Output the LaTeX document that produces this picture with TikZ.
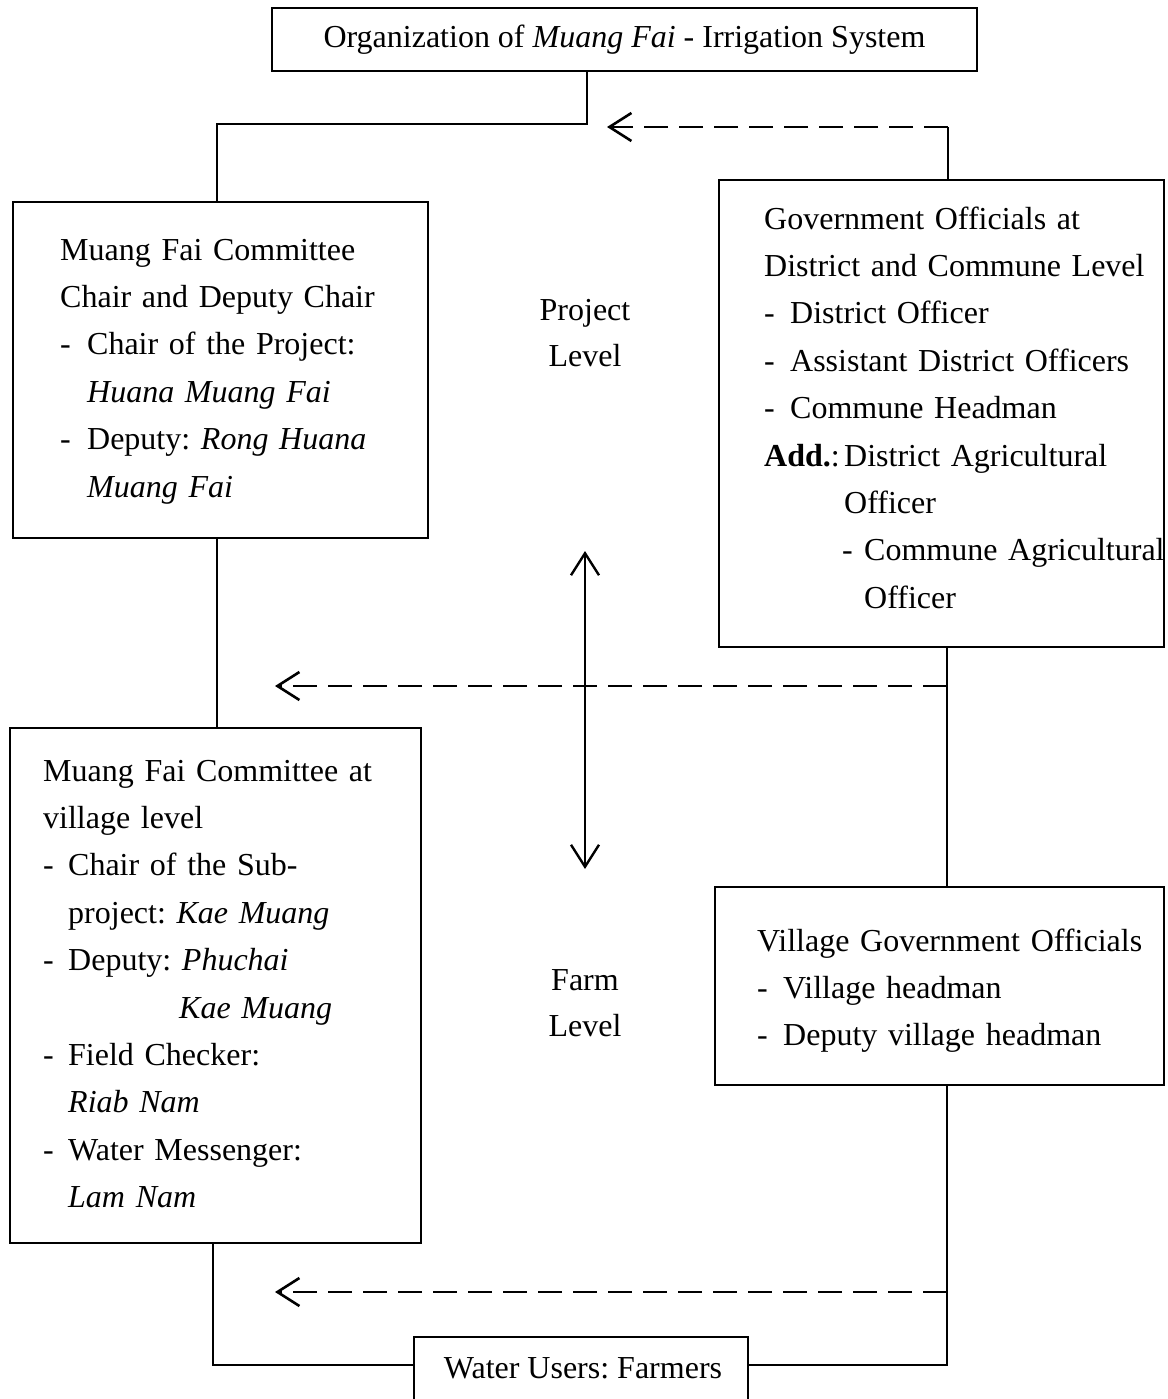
\documentclass[tikz,border=0pt]{standalone}
\usepackage{fontspec}
\setmainfont{Liberation Serif}
\usetikzlibrary{arrows.meta}
\newcommand\dsh[1]{\makebox[#1][l]{-}}
\frenchspacing
\begin{document}
\begin{tikzpicture}[x=1pt,y=-1pt,
  box/.style={draw, line width=2.7pt, rectangle, inner sep=0pt},
  conn/.style={line width=2.4pt},
  dasharrow/.style={line width=2.4pt, dash pattern=on 24pt off 11pt, -{Straight Barb[length=22pt,width=28pt,line width=2.6pt]}},
  dblarrow/.style={line width=2.2pt, {Straight Barb[length=22pt,width=28pt,line width=2.4pt]}-{Straight Barb[length=22pt,width=28pt,line width=2.4pt]}},
  txt/.style={anchor=base west, text width=450pt, align=left, inner sep=0pt, font=\fontsize{32}{47.4}\selectfont},
  lvl/.style={align=center, inner sep=0pt, font=\fontsize{32}{46}\selectfont}
]
\clip (0,0) rectangle (1167,1399);
\useasboundingbox (0,0) rectangle (1167,1399);

% boxes
\node[box, minimum width=705pt, minimum height=63pt, font=\fontsize{32}{38}\selectfont] (title) at (624.5,39.5)
  {Organization of \textit{Muang Fai} - Irrigation System};
\node[box, minimum width=415pt, minimum height=336pt] (mf) at (220.5,370) {};
\node[box, minimum width=445pt, minimum height=467pt] (gov) at (941.5,413.5) {};
\node[box, minimum width=411pt, minimum height=515pt] (mv) at (215.5,985.5) {};
\node[box, minimum width=449pt, minimum height=198pt] (vg) at (939.5,986) {};
\node[box, minimum width=334pt, minimum height=90pt] (wu) at (581,1382) {};

% texts
\node[txt] (mft) at (60,260) {Muang Fai Committee\\
Chair and Deputy Chair\\
\dsh{27pt}Chair of the Project:\\
\hspace*{27pt}\textit{Huana Muang Fai}\\
\dsh{27pt}Deputy: \textit{Rong Huana}\\
\hspace*{27pt}\textit{Muang Fai}};

\node[txt] (govt) at (764,229) {Government Officials at\\
District and Commune Level\\
\dsh{26pt}District Officer\\
\dsh{26pt}Assistant District Officers\\
\dsh{26pt}Commune Headman\\
\makebox[80pt][l]{\textbf{Add.}:}District Agricultural\\
\hspace*{80pt}Officer\\
\hspace*{78pt}\dsh{22pt}Commune Agricultural\\
\hspace*{100pt}Officer};

\node[txt] (mvt) at (43,781) {Muang Fai Committee at\\
village level\\
\dsh{25pt}Chair of the Sub-\\
\hspace*{25pt}project: \textit{Kae Muang}\\
\dsh{25pt}Deputy: \textit{Phuchai}\\
\hspace*{136pt}\textit{Kae Muang}\\
\dsh{25pt}Field Checker:\\
\hspace*{25pt}\textit{Riab Nam}\\
\dsh{25pt}Water Messenger:\\
\hspace*{25pt}\textit{Lam Nam}};

\node[txt] (vgt) at (757,951) {Village Government Officials\\
\dsh{26pt}Village headman\\
\dsh{26pt}Deputy village headman};

\node[lvl] (proj) at (585,333) {Project\\Level};
\node[lvl] (farm) at (585,1003) {Farm\\Level};
\node[inner sep=0pt, font=\fontsize{32}{38}\selectfont] (wut) at (583,1368) {Water Users: Farmers};

% connector coordinates
\coordinate (b1) at (587,124);
\coordinate (b2) at (217,124);
\coordinate (g1) at (948,127);
\coordinate (t1) at (607,127);
\coordinate (g2) at (947,686);
\coordinate (t2) at (275,686);
\coordinate (g3) at (947,1292);
\coordinate (t3) at (275,1292);
\coordinate (f1) at (947,1365);
\coordinate (f2) at (213,1365);
\coordinate (da1) at (585,551);
\coordinate (da2) at (585,869);

% solid connectors
\draw[conn] (title.south -| b1) -- (b1) -- (b2) -- (mf.north -| b2);
\draw[conn] (mf.south -| b2) -- (mv.north -| b2);
\draw[conn] (gov.north -| g1) -- (g1);
\draw[conn] (gov.south -| g2) -- (vg.north -| g2);
\draw[conn] (vg.south -| f1) -- (f1) -- (f1 -| wu.east);
\draw[conn] (mv.south -| f2) -- (f2) -- (f2 -| wu.west);

% dashed arrows
\draw[dasharrow] (g1) -- (t1);
\draw[dasharrow] (g2) -- (t2);
\draw[dasharrow] (g3) -- (t3);

% level arrow
\draw[dblarrow] (da1) -- (da2);
\end{tikzpicture}
\end{document}
